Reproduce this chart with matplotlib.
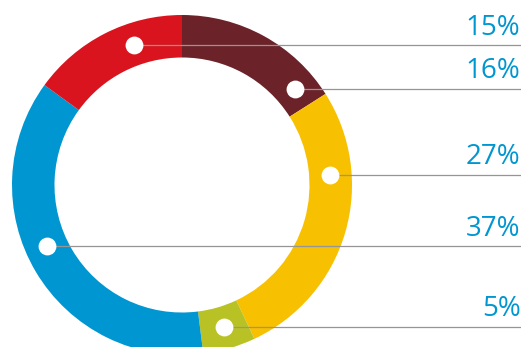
import matplotlib
matplotlib.use("Agg")
import matplotlib.pyplot as plt
import numpy as np

# Data (clockwise from 12 o'clock)
labels = ["16%", "27%", "5%", "37%", "15%"]
values = [16, 27, 5, 37, 15]
colors = ["#6b2329", "#f7c000", "#b8c224", "#0096d1", "#d9141e"]

# Angle (deg, ccw from +x) where each marker dot sits on the ring
dot_angles = [40.5, 4, -73.6, 204.5, 109]

W, H = 521, 347
fig = plt.figure(figsize=(W / 100, H / 100), dpi=100)
ax = fig.add_axes([0, 0, 1, 1])

cx, cy = 182, H - 185
r_out, r_in = 170, 127.5
ax.pie(values, colors=colors, startangle=90, counterclock=False,
       radius=r_out, center=(cx, cy),
       wedgeprops=dict(width=r_out - r_in, linewidth=0), frame=True)
ax.set_xlim(0, W)
ax.set_ylim(0, H)
ax.set_aspect("equal")
ax.axis("off")

r_mid = 148
for lab, ang in zip(labels, dot_angles):
    a = np.deg2rad(ang)
    x = cx + r_mid * np.cos(a)
    y = cy + r_mid * np.sin(a)
    ax.plot([x, W], [y, y], color="#959595", lw=0.9, zorder=3,
            solid_capstyle="butt")
    ax.scatter([x], [y], s=165, color="white", zorder=4, linewidths=0)
    ax.text(520.5, y + 10.5, lab, ha="right", va="baseline",
            fontsize=20, color="#0096d1", family="Open Sans")

fig.savefig("out.png", dpi=100)
